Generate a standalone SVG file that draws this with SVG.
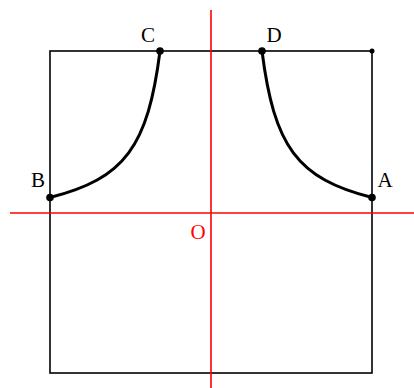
<svg xmlns="http://www.w3.org/2000/svg" width="414" height="388" viewBox="0 0 414 388">
<style>
.sq{fill:none;stroke:#000;stroke-width:1.6}
.ax{stroke:#f00;stroke-width:1.6}
.cv{fill:none;stroke:#000;stroke-width:3;stroke-linecap:round}
.pt{fill:#000}
.lb{font-family:"Liberation Serif","Times New Roman",serif;font-size:21px;fill:#000;text-anchor:middle}
.lo{font-family:"Liberation Serif","Times New Roman",serif;font-size:21px;fill:#f00;text-anchor:middle}
</style>
<rect width="414" height="388" fill="#fff"/>
<g id="square"><rect class="sq" x="50" y="51" width="322" height="322"/></g>
<g id="connectors">
<path class="cv" d="M50,197.5 C125,178.75 148,146 160,51"/>
<path class="cv" d="M372,197.5 C297,178.75 274,146 262,51"/>
</g>
<g id="axes">
<line class="ax" x1="211" y1="10" x2="211" y2="388"/>
<line class="ax" x1="10" y1="213" x2="414" y2="213"/>
</g>
<g id="A"><circle class="pt" cx="372" cy="197.5" r="3.8"/><text class="lb" x="385" y="187">A</text></g>
<g id="B"><circle class="pt" cx="50" cy="197.5" r="3.8"/><text class="lb" x="38" y="187">B</text></g>
<g id="C"><circle class="pt" cx="160" cy="51" r="3.8"/><text class="lb" x="148" y="41.5">C</text></g>
<g id="D"><circle class="pt" cx="262" cy="51" r="3.8"/><text class="lb" x="274" y="41.5">D</text></g>
<g id="E"><circle class="pt" cx="372" cy="51" r="2.5"/></g>
<g id="O"><text class="lo" x="198" y="239">O</text></g>
</svg>
